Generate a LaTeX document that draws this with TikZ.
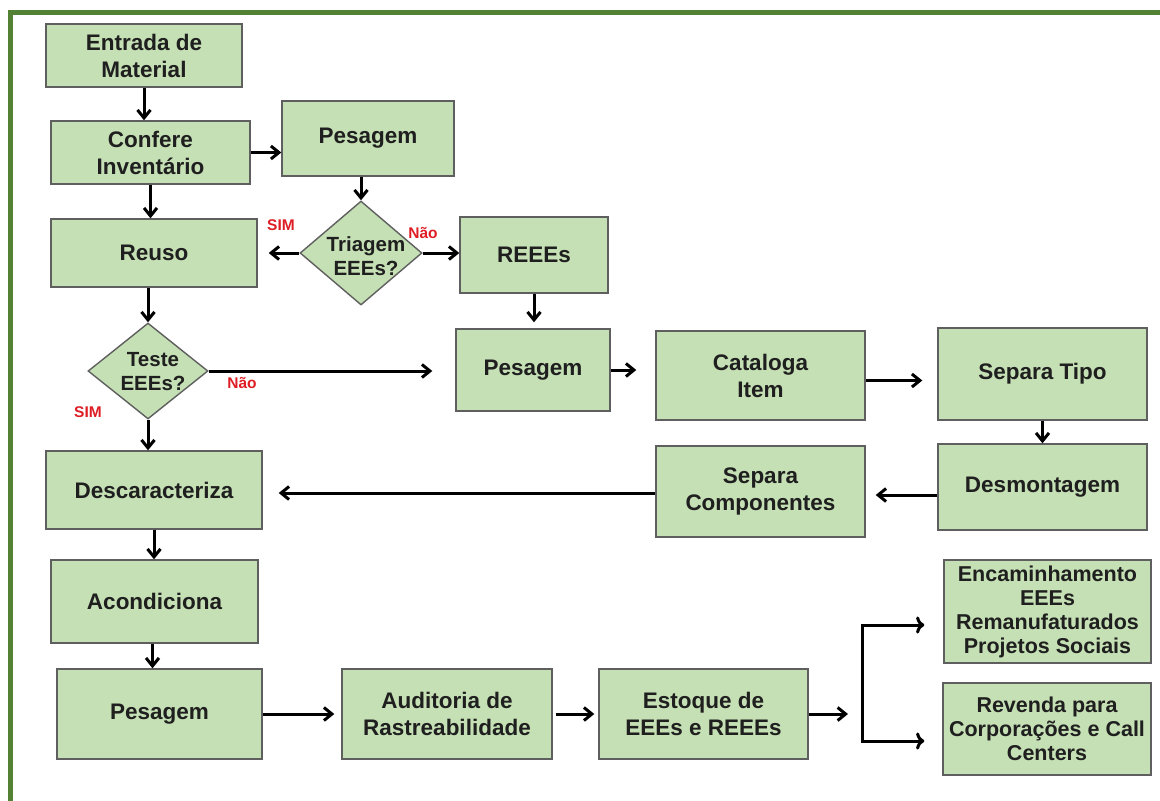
\documentclass[tikz,border=0pt]{standalone}
\usepackage{fontspec}
\setmainfont{Liberation Sans}
\usetikzlibrary{arrows.meta,shapes.geometric}
\definecolor{boxfill}{RGB}{197,224,180}
\definecolor{boxline}{RGB}{95,95,95}
\definecolor{framegreen}{RGB}{84,130,53}
\definecolor{lblred}{RGB}{222,30,36}
\tikzset{
  box/.style={draw=boxline, line width=1.4pt, fill=boxfill, align=center, text=black!88,
    inner sep=0pt, font=\bfseries\fontsize{22.5}{27}\selectfont},
  smallbox/.style={box, font=\bfseries\fontsize{21.5}{24}\selectfont},
  dia/.style={diamond, draw=boxline, line width=1.4pt, fill=boxfill, inner sep=0pt},
  dtext/.style={align=center, text=black!88, inner sep=0pt, font=\bfseries\fontsize{20.5}{24}\selectfont},
  arr/.style={line width=3pt, -{Straight Barb[length=8pt,width=13pt,line width=3pt]}},
  lbl/.style={text=lblred, inner sep=0pt, font=\bfseries\fontsize{15.5}{18}\selectfont}
}
\begin{document}
\begin{tikzpicture}[x=1pt,y=-1pt]
\useasboundingbox (0,0) rectangle (1160,801);
% frame
\draw[framegreen, line width=5pt] (10.5,801) -- (10.5,12.5) -- (1160,12.5);

% boxes
\node[box, minimum width=196pt, minimum height=63pt] (entrada) at (144,55.5) {Entrada de\\Material};
\node[box, minimum width=199pt, minimum height=63pt] (confere) at (150.5,152.5) {Confere\\Inventário};
\node[box, minimum width=172pt, minimum height=75pt] (pes1) at (368,138.5) {Pesagem};
\node[box, minimum width=206pt, minimum height=68pt] (reuso) at (154,253) {Reuso};
\node[dia, minimum width=122pt, minimum height=104pt] (triagem) at (361,253) {};
\node[dtext] (triagemT) at (366,256) {Triagem\\EEEs?};
\node[box, minimum width=148pt, minimum height=76pt] (reees) at (534,255) {REEEs};
\node[dia, minimum width=120pt, minimum height=96pt] (teste) at (148,371) {};
\node[dtext] (testeT) at (153,372) {Teste\\EEEs?};
\node[box, minimum width=154pt, minimum height=82pt] (pes2) at (533,370) {Pesagem};
\node[box, minimum width=209pt, minimum height=89pt] (cataloga) at (760.5,375.5) {Cataloga\\Item};
\node[box, minimum width=209pt, minimum height=92pt] (septipo) at (1042.5,374) {Separa Tipo};
\node[box, minimum width=209pt, minimum height=86pt] (desmont) at (1042.5,487) {Desmontagem};
\node[box, minimum width=209pt, minimum height=91pt] (sepcomp) at (760.5,491.5) {Separa\\Componentes};
\node[box, minimum width=216pt, minimum height=78pt] (descar) at (154,490) {Descaracteriza};
\node[box, minimum width=207pt, minimum height=83pt] (acond) at (154.5,601.5) {Acondiciona};
\node[box, minimum width=205pt, minimum height=90pt] (pes3) at (159.5,714) {Pesagem};
\node[box, minimum width=210pt, minimum height=90pt] (audit) at (447,714) {Auditoria de\\Rastreabilidade};
\node[box, minimum width=209pt, minimum height=90pt] (estoque) at (703.5,714) {Estoque de\\EEEs e REEEs};
\node[smallbox, minimum width=207pt, minimum height=103pt] (encam) at (1047.5,611.5) {Encaminhamento\\EEEs\\Remanufaturados\\Projetos Sociais};
\node[smallbox, minimum width=208pt, minimum height=92pt] (revenda) at (1047,729) {Revenda para\\Corporações e Call\\Centers};

% labels
\node[lbl] (simA) at (281,225) {SIM};
\node[lbl] (naoA) at (423,233) {Não};
\node[lbl] (naoB) at (242,383) {Não};
\node[lbl] (simB) at (88,412) {SIM};

% connectors
\draw[arr] (entrada.south) -- (entrada.south |- confere.north);
\draw[arr] (confere.east) -- (confere.east -| pes1.west);
\draw[arr] (confere.south) -- (confere.south |- reuso.north);
\draw[arr] (triagem.north |- pes1.south) -- (triagem.north);
\draw[arr, shorten >=11pt] (triagem.west) -- (triagem.west -| reuso.east);
\draw[arr] (triagem.east) -- (triagem.east -| reees.west);
\draw[arr, shorten >=6pt] (reees.south) -- (reees.south |- pes2.north);
\draw[arr] (teste.north |- reuso.south) -- (teste.north);
\draw[arr, shorten >=23pt] (teste.east) -- (teste.east -| pes2.west);
\draw[arr] (teste.south) -- (teste.south |- descar.north);
\draw[arr, shorten >=19pt] (pes2.east) -- (pes2.east -| cataloga.west);
\draw[arr, shorten >=15pt] ([yshift=-5pt]cataloga.east) -- ([yshift=-5pt]cataloga.east -| septipo.west);
\draw[arr] (desmont.north |- septipo.south) -- (desmont.north);
\draw[arr, shorten >=10pt] ([yshift=-8pt]desmont.west) -- ([yshift=-8pt]desmont.west -| sepcomp.east);
\draw[arr, shorten >=16pt] ([yshift=-1.5pt]sepcomp.west) -- ([yshift=-1.5pt]sepcomp.west -| descar.east);
\draw[arr] (descar.south) -- (descar.south |- acond.north);
\draw[arr] ([xshift=-2pt]acond.south) -- ([xshift=-2pt]acond.south |- pes3.north);
\draw[arr, shorten >=7pt] (pes3.east) -- (pes3.east -| audit.west);
\draw[arr, shorten <=3pt, shorten >=4pt] (audit.east) -- (audit.east -| estoque.west);
\coordinate (split) at (848,714);
\draw[arr] (estoque.east) -- (split);
\coordinate (bt) at (862,625);
\coordinate (bb) at (862,741);
\draw[arr, <->, shorten <=19pt, shorten >=18pt] (bt -| encam.west) -- (bt) -- (bb) -- (bb -| revenda.west);
\end{tikzpicture}
\end{document}
